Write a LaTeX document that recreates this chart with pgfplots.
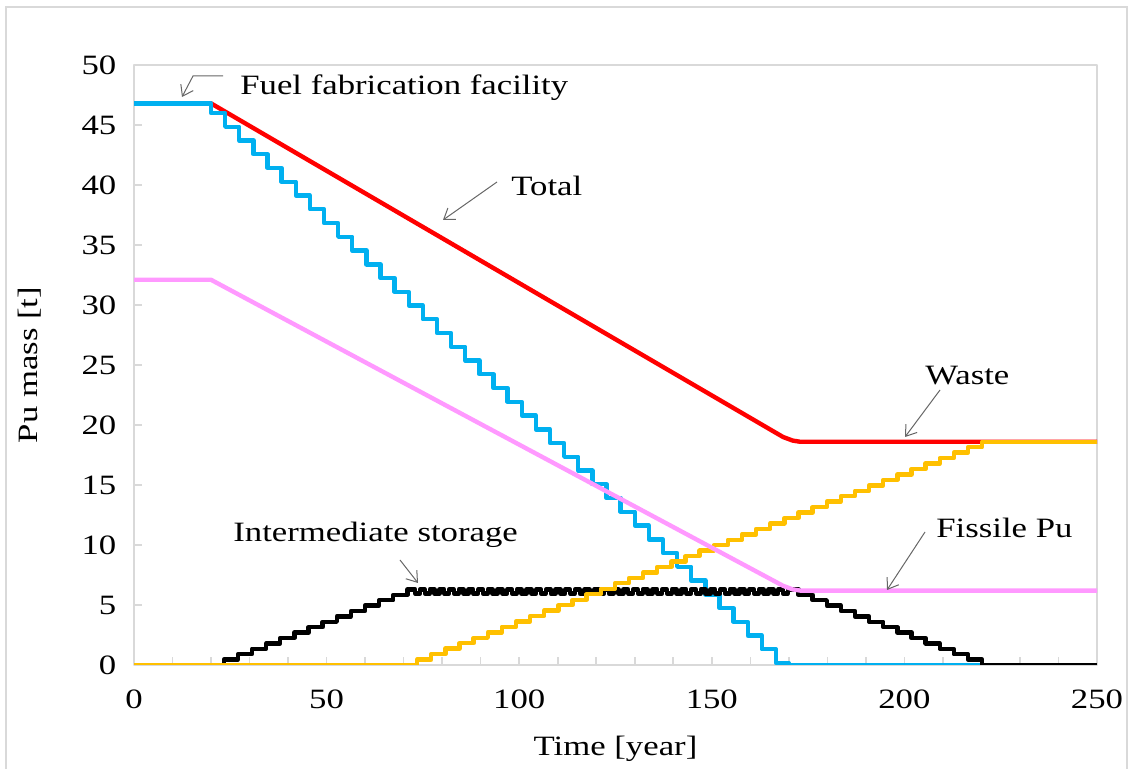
\documentclass[border=0pt]{standalone}
\usepackage{fontspec}
\setmainfont{Liberation Serif}[FakeStretch=1.24]
\usepackage{pgfplots}
\pgfplotsset{compat=1.18}
\usetikzlibrary{arrows.meta}
\definecolor{cblue}{RGB}{0,176,240}
\definecolor{cred}{RGB}{255,0,0}
\definecolor{cpink}{RGB}{255,153,255}
\definecolor{corange}{RGB}{255,192,0}
\definecolor{cframe}{RGB}{217,217,217}
\begin{document}
\fontsize{14}{16}\selectfont
\begin{tikzpicture}
\path[use as bounding box] (-67pt,-52pt) rectangle (499.5pt,332.5pt);
\draw[cframe,line width=0.6pt] (-64pt,-60pt) -- (-64pt,329pt) -- (496.5pt,329pt) -- (496.5pt,-60pt);
\begin{axis}[
  at={(0,0)}, anchor=south west, scale only axis,
  width=481.5pt, height=300pt,
  xmin=0, xmax=250, ymin=0, ymax=50,
  xtick={0,50,...,250}, minor xtick={10,20,...,240},
  ytick={0,5,...,50},
  xtick pos=bottom, ytick pos=left, tick align=inside,
  major tick length=4pt, minor tick length=4pt,
  axis line style={cframe, line width=0.8pt},
  tick style={cframe, line width=0.8pt},
  /pgf/number format/assume math mode=true,
  xticklabel style={yshift=-7.5pt},
  yticklabel style={xshift=-4pt},
  line join=round,
]
\addplot[cred, line width=2.2pt] coordinates {(0,46.8)(20,46.8)(168.5,19.0)(171,18.7)(173,18.6)(250,18.6)};
\addplot[cblue, line width=2.2pt, const plot] coordinates {
(0,46.8)(20.00,46.00)(23.67,44.85)(27.33,43.71)(31.00,42.56)(34.67,41.42)(38.33,40.27)
(42.00,39.12)(45.67,37.98)(49.33,36.83)(53.00,35.69)(56.67,34.54)(60.33,33.39)
(64.00,32.25)(67.67,31.10)(71.33,29.96)(75.00,28.81)(78.67,27.66)(82.33,26.52)
(86.00,25.37)(89.67,24.23)(93.33,23.08)(97.00,21.93)(100.67,20.79)(104.33,19.64)
(108.00,18.50)(111.67,17.35)(115.33,16.20)(119.00,15.06)(122.67,13.91)(126.33,12.77)
(130.00,11.62)(133.67,10.47)(137.33,9.33)(141.00,8.18)(144.67,7.04)(148.33,5.89)
(152.00,4.74)(155.67,3.60)(159.33,2.45)(163.00,1.31)(166.67,0.16)(170.00,0)(250,0)};
\addplot[black, line width=2.2pt, const plot] coordinates {
(0,0)(23.30,0.45)(26.97,0.90)(30.63,1.35)(34.30,1.80)(37.97,2.25)(41.63,2.70)
(45.30,3.15)(48.97,3.60)(52.63,4.05)(56.30,4.50)(59.97,4.95)(63.63,5.40)(67.30,5.85)(70.97,6.30)
(73.00,5.95)(74.26,6.30)(75.51,5.95)(76.77,6.30)(78.03,5.95)(79.29,6.30)(80.54,5.95)(81.80,6.30)
(83.05,5.95)(84.31,6.30)(85.57,5.95)(86.83,6.30)(88.08,5.95)(89.34,6.30)(90.59,5.95)(91.85,6.30)
(93.10,5.95)(94.36,6.30)(95.62,5.95)(96.88,6.30)(98.13,5.95)(99.39,6.30)(100.64,5.95)(101.90,6.30)
(103.16,5.95)(104.42,6.30)(105.67,5.95)(106.93,6.30)(108.18,5.95)(109.44,6.30)(110.70,5.95)(111.96,6.30)
(113.21,5.95)(114.47,6.30)(115.72,5.95)(116.98,6.30)(118.23,5.95)(119.49,6.30)(120.75,5.95)(122.01,6.30)
(123.26,5.95)(124.52,6.30)(125.77,5.95)(127.03,6.30)(128.29,5.95)(129.55,6.30)(130.80,5.95)(132.06,6.30)
(133.31,5.95)(134.57,6.30)(135.83,5.95)(137.09,6.30)(138.34,5.95)(139.60,6.30)(140.85,5.95)(142.11,6.30)
(143.36,5.95)(144.62,6.30)(145.88,5.95)(147.14,6.30)(148.39,5.95)(149.65,6.30)(150.90,5.95)(152.16,6.30)
(153.42,5.95)(154.68,6.30)(155.93,5.95)(157.19,6.30)(158.44,5.95)(159.70,6.30)(160.96,5.95)(162.22,6.30)
(163.47,5.95)(164.73,6.30)(165.98,5.95)(167.24,6.30)(168.49,5.95)(169.75,6.30)
(172.50,5.85)(176.17,5.40)(179.83,4.95)(183.50,4.50)(187.17,4.05)(190.83,3.60)(194.50,3.15)
(198.17,2.70)(201.83,2.25)(205.50,1.80)(209.17,1.35)(212.83,0.90)(216.50,0.45)(220.17,0)(250,0)};
\addplot[corange, line width=2.2pt, const plot] coordinates {
(0,0)(73.50,0.45)(77.17,0.91)(80.83,1.36)(84.50,1.81)(88.17,2.27)(91.83,2.72)(95.50,3.18)
(99.17,3.63)(102.83,4.08)(106.50,4.54)(110.17,4.99)(113.83,5.44)(117.50,5.90)(121.17,6.35)
(124.83,6.81)(128.50,7.26)(132.17,7.71)(135.83,8.17)(139.50,8.62)(143.17,9.07)(146.83,9.53)
(150.50,9.98)(154.17,10.44)(157.83,10.89)(161.50,11.34)(165.17,11.80)(168.83,12.25)(172.50,12.70)
(176.17,13.16)(179.83,13.61)(183.50,14.07)(187.17,14.52)(190.83,14.97)(194.50,15.43)(198.17,15.88)
(201.83,16.33)(205.50,16.79)(209.17,17.24)(212.83,17.70)(216.50,18.15)(220.17,18.60)(250,18.60)};
\addplot[cpink, line width=2.2pt] coordinates {(0,32.1)(20,32.1)(168.5,6.6)(171,6.3)(173,6.2)(250,6.2)};
\end{axis}
\node[rotate=90] at (-52pt,150pt) {Pu mass [t]};
\node at (240.75pt,-42pt) {Time [year]};
\begin{scope}[every node/.style={anchor=west, inner sep=0pt}]
\node at (53pt,288.5pt) {Fuel fabrication facility};
\node at (188.5pt,239.5pt) {Total};
\node at (395.5pt,144.5pt) {Waste};
\node at (401pt,68.5pt) {Fissile Pu};
\node at (49.5pt,65pt) {Intermediate storage};
\end{scope}
\begin{scope}[gray!80!black, line width=0.5pt, -{Straight Barb[length=5pt,width=7pt]}]
\draw (44.5pt,294.5pt) -- (29.5pt,294.5pt) -- (24pt,284pt);
\draw (181.5pt,241.5pt) -- (154.5pt,222.5pt);
\draw (403pt,137.5pt) -- (385.5pt,114pt);
\draw (395.5pt,66.5pt) -- (376.5pt,37.5pt);
\draw (133pt,52.5pt) -- (142pt,41pt);
\end{scope}
\end{tikzpicture}
\end{document}
